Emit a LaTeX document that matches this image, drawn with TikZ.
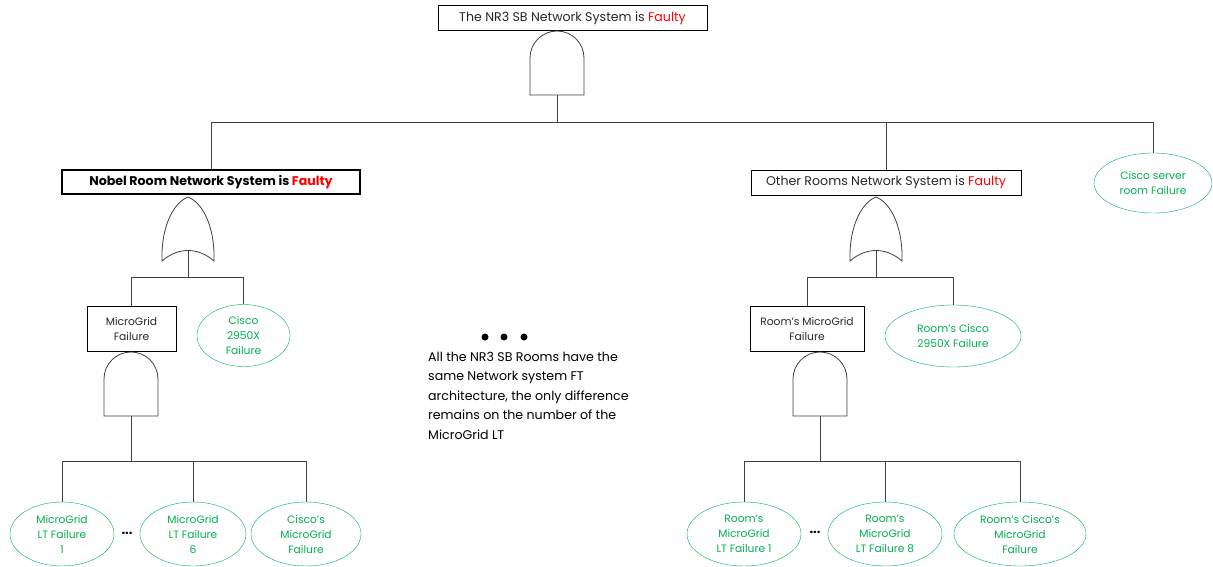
\documentclass[tikz,border=0pt]{standalone}
\usepackage{fontspec}
\setmainfont{Poppins}
\usetikzlibrary{shapes}
\definecolor{evgreen}{RGB}{0,176,80}
\definecolor{faulty}{RGB}{255,0,0}
\definecolor{txtgrey}{RGB}{38,38,38}

\begin{document}
\begin{tikzpicture}[x = 1pt, y = -1pt, font = \fontsize{10.7}{15}\selectfont,
  andgate/.pic = {\draw[gateStyle] (-27,64) -- (-27,27) arc (180:360:27) -- (27,64) -- cycle;
    \coordinate (-out) at (0,64);},
  orgate/.pic = {\draw[gateStyle] (0,0) .. controls (15,6) and (27,30) .. (26,64)
    .. controls (10,50) and (-10,50) .. (-26,64) .. controls (-27,30) and (-15,6) .. (0,0) -- cycle;
    \coordinate (-out) at (0,53);}]
\tikzstyle{boxStyle}=[shape = rectangle, draw, text = txtgrey, align = center, inner sep = 2pt]
\tikzstyle{topStyle}=[boxStyle, minimum height = 25pt, font = \fontsize{12.6}{15}\selectfont]
\tikzstyle{basicStyle}=[shape = ellipse, draw = evgreen, text = evgreen, align = center, inner sep = 0pt]
\tikzstyle{gateStyle}=[draw = black!75, line width = 0.8pt, fill = white]
\tikzstyle{wireStyle}=[draw = black!75, line width = 0.8pt]
\useasboundingbox (0,0) rectangle (1213,566);
\node[topStyle, minimum width = 269pt] (top) at (572.5,18) {The NR3 SB Network System is \textcolor{faulty}{Faulty}};
\node[topStyle, minimum width = 298pt, line width = 1.5pt, text = black, minimum height = 24pt] (nobel) at (211,182) {\textbf{Nobel Room Network System is \textcolor{faulty}{Faulty}}};
\node[topStyle, minimum width = 270pt] (other) at (886,182.5) {Other Rooms Network System is \textcolor{faulty}{Faulty}};
\node[basicStyle, minimum width = 118pt, minimum height = 60pt] (srvroom) at (1153,183) {Cisco server\\room Failure};
\node[boxStyle, minimum width = 89pt, minimum height = 45pt] (mgfail) at (131.5,328.5) {MicroGrid\\Failure};
\node[basicStyle, minimum width = 93pt, minimum height = 62pt] (cisco) at (243.5,335.5) {Cisco\\2950X\\Failure};
\node[boxStyle, minimum width = 114pt, minimum height = 45pt] (rmgfail) at (807,328.5) {Room's MicroGrid\\Failure};
\node[basicStyle, minimum width = 136pt, minimum height = 62pt] (rcisco) at (953,336) {Room's Cisco\\2950X Failure};
\node[basicStyle, minimum width = 104pt, minimum height = 64pt] (lt1) at (62,534) {MicroGrid\\LT Failure\\1};
\node[basicStyle, minimum width = 106pt, minimum height = 64pt] (lt6) at (193,534) {MicroGrid\\LT Failure\\6};
\node[basicStyle, minimum width = 110pt, minimum height = 64pt] (ciscomg) at (306,534) {Cisco's\\MicroGrid\\Failure};
\node[basicStyle, minimum width = 114pt, minimum height = 64pt] (rlt1) at (744,534) {Room's\\MicroGrid\\LT Failure 1};
\node[basicStyle, minimum width = 114pt, minimum height = 64pt] (rlt8) at (885,534) {Room's\\MicroGrid\\LT Failure 8};
\node[basicStyle, minimum width = 132pt, minimum height = 64pt] (rciscomg) at (1020,534) {Room's Cisco's\\MicroGrid\\Failure};
\node[font = \fontsize{13}{15}\bfseries] (dotsl) at (127,533) {...};
\node[font = \fontsize{13}{15}\bfseries] (dotsr) at (815,532) {...};
\node[anchor = north west, align = left, inner sep = 0pt, font = \fontsize{12.6}{19.4}\selectfont] (note) at (428,352) {All the NR3 SB Rooms have the\\same Network system FT\\architecture, the only difference\\remains on the number of the\\MicroGrid LT};
\foreach \x in {485,504,524} \fill (\x,337) circle (3.5);
\pic (g0) at (557,31) {andgate};
\pic (g1) at (188,197) {orgate};
\pic (g2) at (131,352) {andgate};
\pic (g3) at (876,197) {orgate};
\pic (g4) at (820,352) {andgate};
\draw[wireStyle] (g0-out) -- ++(0,27) coordinate (b0);
\draw[wireStyle] (b0) -| (nobel.north);
\draw[wireStyle] (b0) -| (other.north);
\draw[wireStyle] (b0) -| (srvroom.north);
\draw[wireStyle] (g1-out) -- ++(0,27) coordinate (b1);
\draw[wireStyle] (b1) -| (mgfail.north);
\draw[wireStyle] (b1) -| (cisco.north);
\draw[wireStyle] (g2-out) -- ++(0,45) coordinate (b2);
\draw[wireStyle] (b2) -| (lt1.north);
\draw[wireStyle] (b2) -| (lt6.north);
\draw[wireStyle] (b2) -| (ciscomg.north);
\draw[wireStyle] (g3-out) -- ++(0,27) coordinate (b3);
\draw[wireStyle] (b3) -| (rmgfail.north);
\draw[wireStyle] (b3) -| (rcisco.north);
\draw[wireStyle] (g4-out) -- ++(0,45) coordinate (b4);
\draw[wireStyle] (b4) -| (rlt1.north);
\draw[wireStyle] (b4) -| (rlt8.north);
\draw[wireStyle] (b4) -| (rciscomg.north);
\end{tikzpicture}
\end{document}
